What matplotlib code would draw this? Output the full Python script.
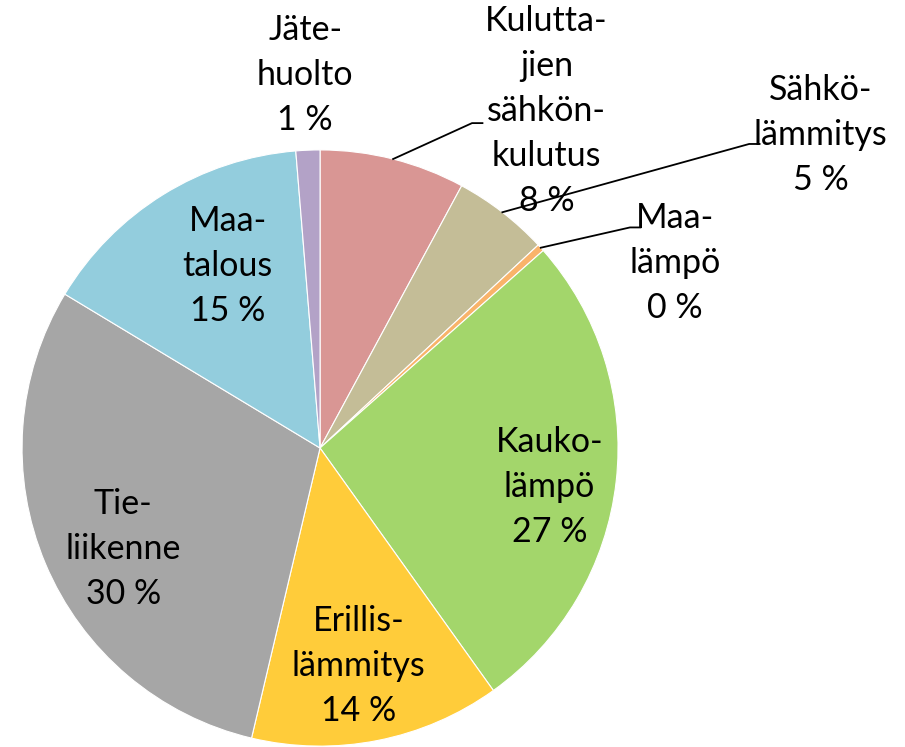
import numpy as np
import matplotlib.pyplot as plt

plt.rcParams['font.family'] = ['Lato', 'DejaVu Sans']

labels = ['Kulutta-\njien\nsähkön-\nkulutus', 'Sähkö-\nlämmitys', 'Maa-\nlämpö',
          'Kauko-\nlämpö', 'Erillis-\nlämmitys', 'Tie-\nliikenne', 'Maa-\ntalous',
          'Jäte-\nhuolto']
values = [7.9, 5.2, 0.4, 26.7, 13.6, 30.0, 15.1, 1.3]
colors = ['#D99694', '#C4BD97', '#F9B36A', '#A3D66B', '#FFCC3A', '#A6A6A6',
          '#93CDDD', '#B3A2C7']

# label centres (data units, radius 1) and leader line end for outside labels
label_pos = [(0.76, 1.13), (1.68, 1.05), (1.19, 0.62), (0.77, -0.13),
             (0.13, -0.73), (-0.66, -0.34), (-0.31, 0.61), (-0.05, 1.25)]
leader_end = [(0.51, 1.09), (1.44, 1.02), (1.04, 0.74), None, None, None, None, None]

fig = plt.figure(figsize=(9.05, 7.47), dpi=100)
ax = fig.add_axes([0, 0, 1, 1])

wedges, _ = ax.pie(values, colors=colors, startangle=90, counterclock=False,
                   radius=1, wedgeprops=dict(edgecolor='white', linewidth=0.8))
ax.set_aspect('auto')
ax.set_xlim(-1.074, 1.963)
ax.set_ylim(-1.003, 1.503)
ax.axis('off')

total = sum(values)
for w, lab, v, pos, end in zip(wedges, labels, values, label_pos, leader_end):
    txt = lab + '\n' + '%d %%' % round(v / total * 100)
    ax.text(pos[0], pos[1], txt, ha='center', va='center', fontsize=24.5,
            linespacing=1.5, color='black')
    if end is not None:
        ang = np.deg2rad((w.theta1 + w.theta2) / 2)
        x0, y0 = np.cos(ang), np.sin(ang)
        ax.plot([x0, end[0], end[0] + 0.035], [y0, end[1], end[1]],
                color='black', lw=1.3)

fig.savefig('out.png', dpi=100)
